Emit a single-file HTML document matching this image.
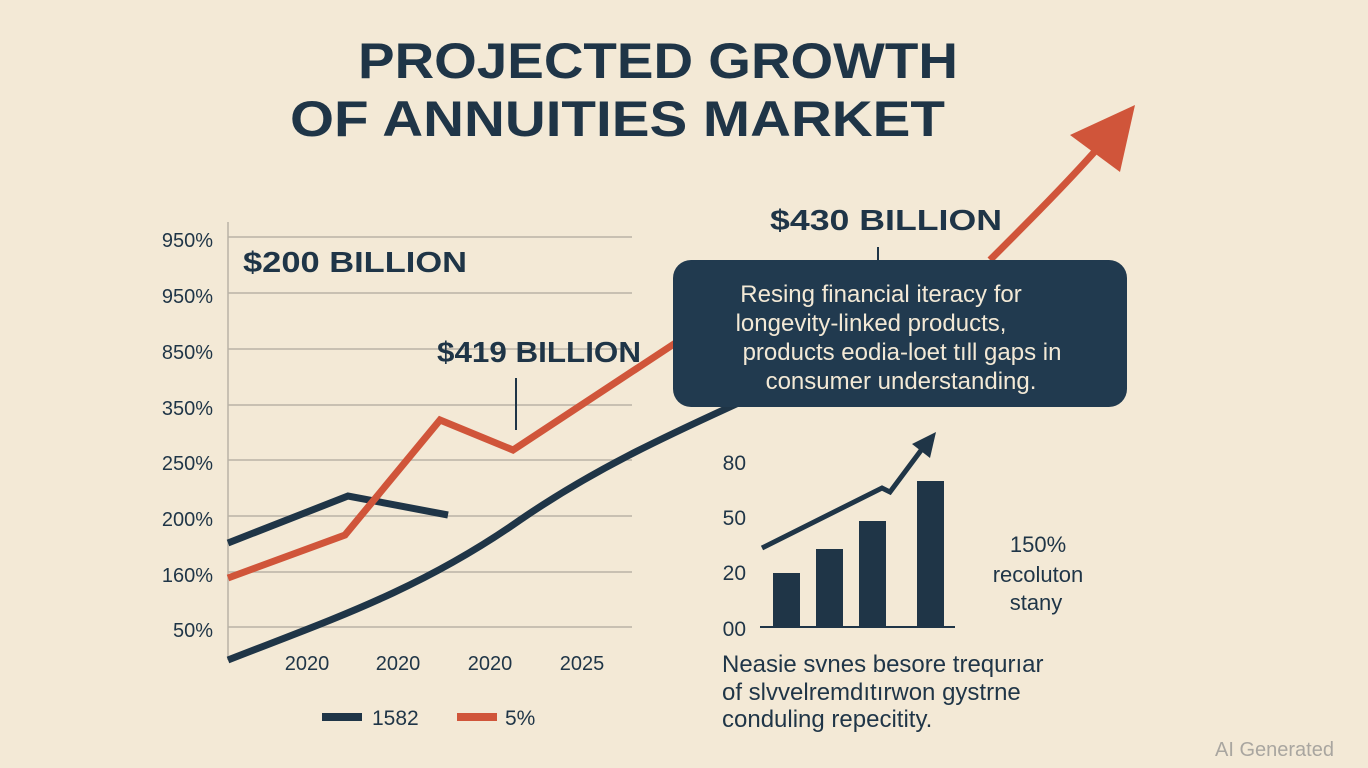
<!DOCTYPE html>
<html><head><meta charset="utf-8"><style>
html,body{margin:0;padding:0;background:#f3e9d6;}
svg{display:block}
text{font-family:"Liberation Sans",sans-serif;}
</style></head><body>
<svg width="1368" height="768" viewBox="0 0 1368 768" xmlns="http://www.w3.org/2000/svg">
<rect width="1368" height="768" fill="#f3e9d6"/>
<g fill="#1f3547" font-weight="bold" font-size="50">
<text x="358" y="78" textLength="600" lengthAdjust="spacingAndGlyphs">PROJECTED GROWTH</text>
<text x="290" y="136" textLength="655" lengthAdjust="spacingAndGlyphs">OF ANNUITIES MARKET</text>
</g>
<g stroke="#b9b3a6" stroke-width="1.5">
<line x1="228" y1="237" x2="632" y2="237"/><line x1="228" y1="293" x2="632" y2="293"/>
<line x1="228" y1="349" x2="632" y2="349"/><line x1="228" y1="405" x2="632" y2="405"/>
<line x1="228" y1="460" x2="632" y2="460"/><line x1="228" y1="516" x2="632" y2="516"/>
<line x1="228" y1="572" x2="632" y2="572"/><line x1="228" y1="627" x2="632" y2="627"/>
<line x1="228" y1="222" x2="228" y2="660"/>
</g>
<g fill="#1f3547" font-size="20" text-anchor="end">
<text x="213" y="247">950%</text><text x="213" y="303">950%</text><text x="213" y="359">850%</text>
<text x="213" y="415">350%</text><text x="213" y="470">250%</text><text x="213" y="526">200%</text>
<text x="213" y="582">160%</text><text x="213" y="637">50%</text>
</g>
<g fill="#1f3547" font-size="20" text-anchor="middle">
<text x="307" y="670">2020</text><text x="398" y="670">2020</text><text x="490" y="670">2020</text><text x="582" y="670">2025</text>
</g>
<path d="M228,660 C330,620 420,590 520,520 C600,465 680,430 745,400" fill="none" stroke="#1f3547" stroke-width="7"/>
<polyline points="228,543 348,496 448,515" fill="none" stroke="#1f3547" stroke-width="7"/>
<polyline points="228,578 345,535 440,420 513,450 680,340" fill="none" stroke="#d0553a" stroke-width="7"/>
<path d="M990,260 C1030,220 1070,180 1105,140" fill="none" stroke="#d0553a" stroke-width="7"/>
<polygon points="1135,105 1070,135 1120,172" fill="#d0553a"/>
<line x1="516" y1="378" x2="516" y2="430" stroke="#1f3547" stroke-width="2"/>
<line x1="878" y1="247" x2="878" y2="262" stroke="#1f3547" stroke-width="2"/>
<g fill="#1f3547" font-weight="bold" font-size="29">
<text x="243" y="272" textLength="224" lengthAdjust="spacingAndGlyphs">$200 BILLION</text>
<text x="437" y="362" textLength="204" lengthAdjust="spacingAndGlyphs">$419 BILLION</text>
<text x="770" y="230" textLength="232" lengthAdjust="spacingAndGlyphs">$430 BILLION</text>
</g>
<rect x="673" y="260" width="454" height="147" rx="18" fill="#213a4f"/>
<g fill="#f3e9d6" font-size="24" text-anchor="middle">
<text x="881" y="302">Resing financial iteracy for</text>
<text x="871" y="331">longevity-linked products,</text>
<text x="902" y="360">products eodia-loet tıll gaps in</text>
<text x="901" y="389">consumer understanding.</text>
</g>
<g fill="#1f3547" font-size="21" text-anchor="end">
<text x="746" y="470">80</text><text x="746" y="525">50</text><text x="746" y="580">20</text><text x="746" y="636">00</text>
</g>
<line x1="760" y1="627" x2="955" y2="627" stroke="#1f3547" stroke-width="2"/>
<g fill="#1f3547">
<rect x="773" y="573" width="27" height="54"/><rect x="816" y="549" width="27" height="78"/>
<rect x="859" y="521" width="27" height="106"/><rect x="917" y="481" width="27" height="146"/>
</g>
<polyline points="762,548 882,488 890,492 925,445" fill="none" stroke="#1f3547" stroke-width="5"/>
<polygon points="936,432 912,444 930,458" fill="#1f3547"/>
<g fill="#1f3547" font-size="22" text-anchor="middle">
<text x="1038" y="552">150%</text><text x="1038" y="582">recoluton</text><text x="1036" y="610">stany</text>
</g>
<g fill="#1f3547" font-size="24">
<text x="722" y="672">Neasie svnes besore trequrıar</text>
<text x="722" y="700">of slvvelremdıtırwon gystrne</text>
<text x="722" y="727">conduling repecitity.</text>
</g>
<line x1="322" y1="717" x2="362" y2="717" stroke="#1f3547" stroke-width="8"/>
<text x="372" y="725" fill="#1f3547" font-size="21">1582</text>
<line x1="457" y1="717" x2="497" y2="717" stroke="#d0553a" stroke-width="8"/>
<text x="505" y="725" fill="#1f3547" font-size="21">5%</text>
<text x="1215" y="756" fill="#a9a6a0" font-size="20">AI Generated</text>
</svg>
</body></html>
